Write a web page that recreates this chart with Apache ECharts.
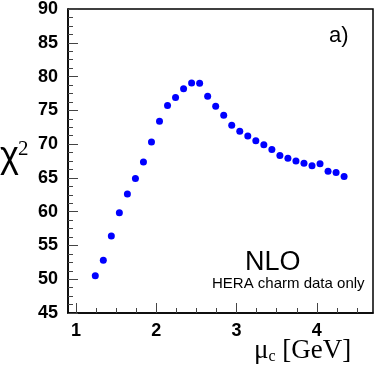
<!DOCTYPE html>
<html>
<head>
<meta charset="utf-8">
<script src="https://cdn.jsdelivr.net/npm/echarts@6/dist/echarts.min.js"></script>
<style>
  html, body { margin: 0; padding: 0; background: #fff; }
  #main { width: 374px; height: 367px; }
</style>
</head>
<body>
<div id="main"></div>
<script>
// mu_c values (GeV) and chi2
var muC = [1.24, 1.34, 1.44, 1.54, 1.64, 1.74, 1.84, 1.94, 2.04, 2.14, 2.24, 2.34, 2.44, 2.54, 2.64, 2.74,
           2.84, 2.94, 3.04, 3.14, 3.24, 3.34, 3.44, 3.54, 3.64, 3.74, 3.84, 3.94, 4.04, 4.14, 4.24, 4.34];
var chi2 = [50.5, 52.8, 56.4, 59.85, 62.6, 64.9, 67.35, 70.3, 73.4, 75.7, 76.9, 78.2, 79.06, 79.0, 77.1, 75.6,
            74.26, 72.8, 71.9, 71.2, 70.5, 69.9, 69.2, 68.3, 67.9, 67.5, 67.15, 66.8, 67.1, 66.0, 65.8, 65.2];
var xMajorTicks = [1, 2, 3, 4];
var xMinorTicks = [1.25, 1.5, 1.75, 2.25, 2.5, 2.75, 3.25, 3.5, 3.75, 4.25, 4.5];

var pts = [];
for (var i = 0; i < muC.length; i++) {
    pts.push([muC[i], chi2[i]]);
}

var myChart = echarts.init(document.getElementById('main'));
myChart.setOption({
    animation: false,
    grid: {
        left: 68, right: 1, top: 7, bottom: 54,
        show: true,
        borderColor: '#000',
        borderWidth: 1.5,
        containLabel: false
    },
    xAxis: [
        {
            type: 'value',
            min: 0.9, max: 4.7,
            splitLine: { show: false },
            axisLine: { show: true, onZero: false, lineStyle: { color: '#000', width: 1.5 } },
            axisTick: { show: true, inside: true, length: 10, customValues: xMajorTicks, lineStyle: { color: '#444' } },
            axisLabel: {
                customValues: xMajorTicks,
                margin: 9,
                color: '#000',
                fontFamily: 'Liberation Sans',
                fontWeight: 'bold',
                fontSize: 18
            }
        },
        {
            type: 'value',
            min: 0.9, max: 4.7,
            position: 'bottom',
            splitLine: { show: false },
            axisLine: { show: false },
            axisTick: { show: true, inside: true, length: 5, customValues: xMinorTicks, lineStyle: { color: '#444' } },
            axisLabel: { show: false }
        }
    ],
    yAxis: {
        type: 'value',
        min: 45, max: 90, interval: 5,
        splitLine: { show: false },
        axisLine: { show: true, onZero: false, lineStyle: { color: '#000', width: 1.5 } },
        axisTick: { show: true, inside: true, length: 10, lineStyle: { color: '#444' } },
        minorTick: { show: true, splitNumber: 4, length: 5, lineStyle: { color: '#444' } },
        axisLabel: {
            margin: 10,
            color: '#000',
            fontFamily: 'Liberation Sans',
            fontWeight: 'bold',
            fontSize: 18
        }
    },
    series: [{
        type: 'scatter',
        xAxisIndex: 0,
        symbol: 'circle',
        symbolSize: 7,
        itemStyle: { color: '#0000ff', opacity: 1 },
        data: pts
    }],
    graphic: [
        {
            type: 'text', left: 0, top: 139,
            style: { text: 'χ', fontFamily: 'Liberation Sans', fontSize: 36, fill: '#000' }
        },
        {
            type: 'text', left: 18, top: 139,
            style: { text: '2', fontFamily: 'Liberation Serif', fontSize: 21, fill: '#000' }
        },
        {
            type: 'text', left: 254, top: 337,
            style: {
                text: '{m|μ}{s|c}{m| [GeV]}',
                rich: {
                    m: { fontFamily: 'Liberation Serif', fontSize: 27, fill: '#000' },
                    s: { fontFamily: 'Liberation Serif', fontSize: 16, fill: '#000', verticalAlign: 'bottom', padding: [13, 0, 0, 0] }
                }
            }
        },
        {
            type: 'text', left: 329, top: 25,
            style: { text: 'a)', fontFamily: 'Liberation Sans', fontSize: 22, fill: '#000' }
        },
        {
            type: 'text', left: 245, top: 249,
            style: { text: 'NLO', fontFamily: 'Liberation Sans', fontSize: 27, fill: '#000' }
        },
        {
            type: 'text', left: 212, top: 276,
            style: { text: 'HERA charm data only', fontFamily: 'Liberation Sans', fontSize: 15, fill: '#000' }
        }
    ]
});
</script>
</body>
</html>
